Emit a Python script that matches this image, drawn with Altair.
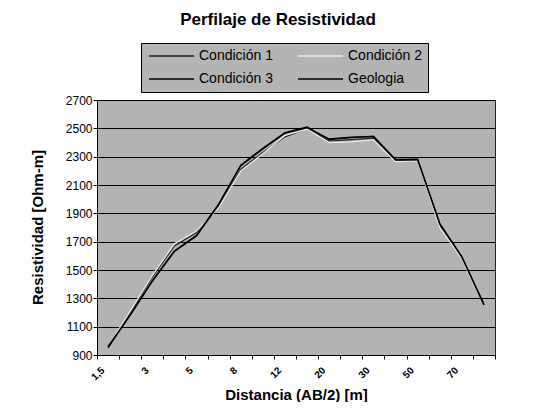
import json
import altair as alt
import pandas as pd

# Distances AB/2 (category labels)
distancias = ["1,5", "2", "3", "4", "5", "6", "8", "10", "12", "15",
              "20", "25", "30", "40", "50", "60", "70", "80"]

series = ["Condición 1", "Condición 2", "Condición 3", "Geologia"]

cond1 = [955, 1200, 1450, 1670, 1765, 1950, 2210, 2330, 2440, 2500,
         2410, 2420, 2430, 2270, 2275, 1810, 1590, 1255]
cond2 = [960, 1210, 1460, 1685, 1775, 1940, 2200, 2320, 2450, 2495,
         2400, 2405, 2420, 2265, 2270, 1800, 1580, 1250]
cond3 = [950, 1185, 1425, 1635, 1745, 1965, 2235, 2355, 2465, 2505,
         2425, 2438, 2442, 2278, 2280, 1825, 1595, 1252]
geologia = [960, 1180, 1420, 1630, 1740, 1960, 2240, 2360, 2470, 2510,
            2420, 2435, 2445, 2280, 2282, 1830, 1590, 1260]

values = [cond1, cond2, cond3, geologia]

rows = []
for s, vals in zip(series, values):
    for i, v in enumerate(vals):
        rows.append({"idx": i, "dist": distancias[i], "serie": s, "res": v})
df = pd.DataFrame(rows)

n = len(distancias)
tick_vals = [i - 0.5 for i in range(n + 1)]
arr = json.dumps(distancias)
label_expr = ("(datum.value + 0.5) % 2 == 0 && datum.value < " + str(n - 1)
              + " ? " + arr + "[datum.value + 0.5] : ''")

FONT = "Liberation Sans"

chart = alt.Chart(df).mark_line(interpolate="linear").encode(
    x=alt.X("idx:Q",
            scale=alt.Scale(domain=[-0.5, n - 0.5], nice=False, zero=False),
            axis=alt.Axis(values=tick_vals, labelExpr=label_expr, labelAngle=-45,
                          labelOverlap=False, labelOffset=2, labelPadding=6,
                          labelFontSize=10, labelFontWeight="bold",
                          tickSize=4, tickColor="black", domainColor="black",
                          grid=False, title="Distancia (AB/2) [m]",
                          titleFontSize=15, titleFontWeight="bold",
                          titleY=32, titleX=199)),
    y=alt.Y("res:Q",
            scale=alt.Scale(domain=[900, 2700], nice=False, zero=False),
            axis=alt.Axis(values=list(range(900, 2701, 200)), format="d", tickSize=4,
                          tickColor="black", domainColor="black",
                          gridColor="black", gridWidth=1, gridOpacity=1,
                          labelFontSize=12, labelPadding=1, labelColor="black",
                          title="Resistividad [Ohm-m]", titleFontSize=15,
                          titleFontWeight="bold", titleX=-52, titleY=127)),
    color=alt.Color("serie:N",
                    scale=alt.Scale(domain=series,
                                    range=["#202020", "#e8e8e8", "#000000", "#000000"]),
                    legend=alt.Legend(title=None, orient="none", legendX=44, legendY=-57,
                                      columns=2, symbolType="M-1,0H8", symbolSize=100,
                                      symbolStrokeWidth=2, columnPadding=22, rowPadding=9,
                                      labelOffset=38,
                                      labelFontSize=14, labelColor="black",
                                      fillColor="#b4b4b4", strokeColor="black",
                                      padding=6, labelLimit=200, direction="horizontal")),
    strokeWidth=alt.StrokeWidth("serie:N",
                                scale=alt.Scale(domain=series, range=[1.3, 1.3, 2.6, 2.6]),
                                legend=None),
    order=alt.Order("serie:N"),
).properties(
    width=398,
    height=255,
    title=alt.TitleParams("Perfilaje de Resistividad", fontSize=17, fontWeight="bold",
                          font=FONT, color="black", offset=14, dx=-18),
    padding={"left": 89, "top": 92, "right": 30, "bottom": 47},
    autosize=alt.AutoSizeParams(type="none"),
).configure(
    font=FONT,
).configure_view(
    fill="#b3b3b3",
    stroke="#222222",
    strokeWidth=1,
).configure_axis(
    labelFont=FONT, titleFont=FONT, labelColor="black", titleColor="black",
).configure_legend(
    labelFont=FONT,
)

chart.save("out.html", embed_options={"renderer": "svg", "actions": False})
